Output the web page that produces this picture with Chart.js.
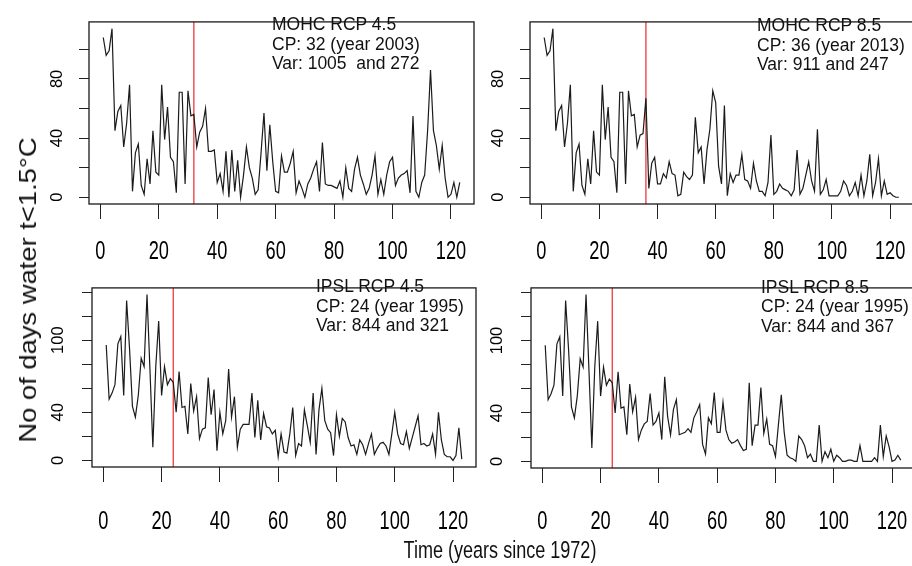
<!DOCTYPE html>
<html>
<head>
<meta charset="utf-8">
<script src="https://cdn.jsdelivr.net/npm/chart.js@4.4.1/dist/chart.umd.min.js"></script>
<style>
  html, body { margin: 0; padding: 0; background: #fff; overflow: hidden; }
  body { width: 912px; height: 566px; position: relative; font-family: 'Liberation Sans', Arial, sans-serif; color: #111; }
  canvas { position: absolute; }
  .note { position: absolute; font-size: 17.5px; line-height: 19.5px; white-space: pre; }
  #ytitle { position: absolute; left: 28px; top: 290px; font-size: 24px; white-space: nowrap;
            transform: translate(-50%, -50%) rotate(-90deg) scaleX(1.14); }
  #xtitle { position: absolute; left: 500px; top: 551px; font-size: 22px; white-space: nowrap;
            transform: translate(-50%, -50%) scale(0.82, 1.07); }
</style>
</head>
<body>
<canvas id="p1" width="445" height="268" style="left:40px;top:0px"></canvas>
<canvas id="p2" width="440" height="268" style="left:485px;top:0px"></canvas>
<canvas id="p3" width="445" height="298" style="left:40px;top:268px"></canvas>
<canvas id="p4" width="440" height="298" style="left:485px;top:268px"></canvas>

<div class="note" style="left:272px;top:15px">MOHC RCP 4.5
CP: 32 (year 2003)
Var: 1005  and 272</div>
<div class="note" style="left:757px;top:16px">MOHC RCP 8.5
CP: 36 (year 2013)
Var: 911 and 247</div>
<div class="note" style="left:316px;top:277px">IPSL RCP 4.5
CP: 24 (year 1995)
Var: 844 and 321</div>
<div class="note" style="left:761px;top:277.5px">IPSL RCP 8.5
CP: 24 (year 1995)
Var: 844 and 367</div>

<div id="ytitle">No of days water t&lt;1.5°C</div>
<div id="xtitle">Time (years since 1972)</div>

<script>
// years since 1972
const years = Array.from({ length: 123 }, (_, i) => i + 1);

const mohc45 = [
  108, 96, 99, 114, 45, 58, 62, 34, 50, 76,
  4, 30, 36, 8, 2, 26, 9, 45, 17, 15,
  76, 39, 61, 27, 24, 3, 71, 71, 9, 72,
  55, 56, 34, 44, 48, 60, 31, 31, 32, 10,
  16, 4, 31, 0, 32, 4, 25, 0, 15, 34,
  20, 13, 2, 5, 30, 57, 18, 49, 24, 4,
  3, 28, 17, 17, 23, 31, 3, 11, 6, 0,
  9, 13, 19, 24, 4, 37, 9, 8, 8, 7,
  6, 11, 0, 20, 6, 4, 19, 27, 15, 9,
  2, 6, 15, 28, 2, 12, 2, 15, 24, 27,
  8, 13, 15, 16, 18, 3, 55, 4, 0, 10,
  15, 45, 86, 45, 35, 19, 35, 13, 0, 2,
  10, 0, 10
];

const mohc85 = [
  108, 96, 99, 114, 45, 58, 62, 34, 50, 76,
  4, 30, 36, 8, 2, 26, 9, 45, 17, 15,
  76, 39, 61, 27, 24, 3, 71, 71, 9, 72,
  55, 56, 34, 42, 43, 67, 6, 23, 27, 9,
  9, 16, 13, 24, 16, 15, 1, 2, 17, 14,
  12, 15, 54, 30, 34, 9, 32, 46, 72, 64,
  21, 9, 62, 1, 16, 10, 15, 15, 29, 12,
  11, 6, 23, 11, 4, 4, 1, 10, 42, 2,
  4, 9, 6, 5, 4, 1, 5, 32, 2, 6,
  15, 24, 11, 4, 46, 2, 5, 12, 1, 1,
  1, 1, 4, 11, 8, 1, 4, 10, 1, 15,
  1, 11, 29, 1, 10, 26, 1, 11, 2, 3,
  1, 0, 0
];

const ipsl45 = [
  96, 51, 56, 63, 97, 103, 54, 133, 93, 45,
  36, 54, 85, 78, 138, 76, 11, 78, 116, 54,
  78, 63, 68, 65, 40, 74, 44, 45, 22, 64,
  41, 53, 18, 26, 27, 69, 38, 59, 8, 40,
  22, 33, 76, 36, 53, 11, 26, 30, 30, 30,
  56, 19, 50, 17, 39, 28, 27, 22, 25, 3,
  22, 7, 6, 22, 44, 4, 14, 12, 42, 29,
  15, 56, 5, 42, 60, 33, 26, 23, 4, 38,
  20, 35, 32, 19, 12, 13, 5, 17, 13, 5,
  14, 22, 5, 10, 14, 15, 12, 5, 22, 40,
  22, 14, 13, 24, 10, 19, 28, 37, 13, 14,
  12, 13, 22, 5, 40, 17, 5, 3, 3, 0,
  4, 27, 1
];

const ipsl85 = [
  96, 51, 56, 63, 97, 103, 54, 133, 93, 45,
  36, 54, 85, 78, 138, 76, 11, 78, 116, 54,
  78, 63, 68, 65, 40, 74, 44, 45, 22, 64,
  41, 53, 18, 26, 31, 33, 56, 30, 33, 40,
  18, 70, 37, 22, 43, 51, 22, 23, 24, 27,
  24, 36, 41, 47, 14, 6, 36, 31, 57, 24,
  24, 49, 26, 18, 15, 16, 18, 13, 9, 10,
  65, 13, 30, 30, 61, 23, 35, 14, 13, 4,
  30, 55, 24, 5, 3, 2, 0, 21, 18, 13,
  3, 6, 0, 0, 30, 0, 8, 3, 10, 0,
  5, 3, 0, 0, 1, 1, 0, 0, 13, 0,
  0, 0, 0, 3, 0, 30, 4, 21, 12, 0,
  1, 5, 1
];

// change points (years since 1972)
const changePoints = [32, 36, 24, 24];

const xTicks = [0, 20, 40, 60, 80, 100, 120];
const yTicksTop = [0, 20, 40, 60, 80, 100];
const yLabelsTop = [0, 40, 80];
const yTicksBottom = [0, 20, 40, 60, 80, 100, 120, 140];
const yLabelsBottom = [0, 40, 100];

const tickFont = "'Liberation Sans', Arial, sans-serif";

// box round the plot region, like R's box()
const boxPlugin = {
  id: 'rbox',
  afterDraw(chart) {
    const { ctx, chartArea: a } = chart;
    ctx.save();
    ctx.strokeStyle = '#1a1a1a';
    ctx.lineWidth = 1.3;
    ctx.strokeRect(a.left, a.top, a.right - a.left, a.bottom - a.top);
    ctx.restore();
  }
};

// the x tick labels in the picture are tall and narrow: squeeze them sideways
function narrowLabels(chartArea) {
  const ctx = this.ctx;
  for (const item of this.getLabelItems(chartArea)) {
    const o = item.options;
    ctx.save();
    ctx.translate(o.translation[0], o.translation[1]);
    ctx.scale(0.7, 1);
    ctx.font = item.font.string;
    ctx.fillStyle = o.color;
    ctx.textAlign = o.textAlign;
    ctx.textBaseline = o.textBaseline;
    ctx.fillText(item.label, 0, item.textOffset);
    ctx.restore();
  }
}

// R style axis limits: data range padded by 4%
function rRange(arr) {
  const lo = Math.min(...arr), hi = Math.max(...arr);
  const d = (hi - lo) * 0.04;
  return [lo - d, hi + d];
}

function makePanel(id, series, cp, yTicks, yLabels, lay) {
  const xr = rRange(years);
  const yr = rRange(series);
  return new Chart(document.getElementById(id), {
    type: 'line',
    data: {
      datasets: [{
        data: series.map((v, i) => ({ x: years[i], y: v })),
        borderColor: '#1b1b1b',
        borderWidth: 1.2,
        pointRadius: 0,
        tension: 0,
        fill: false
      }, {
        data: [{ x: cp, y: yr[0] }, { x: cp, y: yr[1] }],
        borderColor: '#ee3a3a',
        borderWidth: 1.3,
        pointRadius: 0,
        fill: false
      }]
    },
    options: {
      responsive: false,
      animation: false,
      devicePixelRatio: 1,
      events: [],
      layout: { padding: { top: lay.top, right: lay.right, left: 0, bottom: 0 } },
      plugins: { legend: { display: false }, tooltip: { enabled: false } },
      scales: {
        x: {
          type: 'linear',
          min: xr[0],
          max: xr[1],
          afterBuildTicks: s => { s.ticks = xTicks.map(v => ({ value: v })); },
          afterFit: s => {
            s.height = lay.xh; s.paddingLeft = 0; s.paddingRight = 0;
            s.drawLabels = narrowLabels;
          },
          grid: { drawOnChartArea: false, drawTicks: true, tickLength: 15, color: '#222', lineWidth: 1 },
          border: { display: false },
          ticks: {
            color: '#000', padding: lay.xpad, maxRotation: 0, minRotation: 0, autoSkip: false,
            font: { family: tickFont, size: 26 }
          }
        },
        y: {
          type: 'linear',
          min: yr[0],
          max: yr[1],
          afterBuildTicks: s => { s.ticks = yTicks.map(v => ({ value: v })); },
          afterFit: s => { s.width = lay.yw; },
          grid: { drawOnChartArea: false, drawTicks: true, tickLength: 10, color: '#222', lineWidth: 1 },
          border: { display: false },
          ticks: {
            color: '#000', padding: lay.ypad, minRotation: 90, maxRotation: 90, crossAlign: 'center',
            autoSkip: false, font: { family: tickFont, size: 16.5 },
            callback: v => yLabels.includes(v) ? String(v) : ''
          }
        }
      }
    },
    plugins: [boxPlugin]
  });
}

makePanel('p1', mohc45, changePoints[0], yTicksTop, yLabelsTop,
  { top: 9, right: 11, yw: 49, xh: 64, xpad: 17, ypad: 12 });
makePanel('p2', mohc85, changePoints[1], yTicksTop, yLabelsTop,
  { top: 9, right: 12, yw: 45, xh: 64, xpad: 17, ypad: 12 });
makePanel('p3', ipsl45, changePoints[2], yTicksBottom, yLabelsBottom,
  { top: 4, right: 9, yw: 52, xh: 99, xpad: 24, ypad: 10 });
makePanel('p4', ipsl85, changePoints[3], yTicksBottom, yLabelsBottom,
  { top: 5.5, right: 10, yw: 46, xh: 98, xpad: 23, ypad: 10 });
</script>
</body>
</html>
